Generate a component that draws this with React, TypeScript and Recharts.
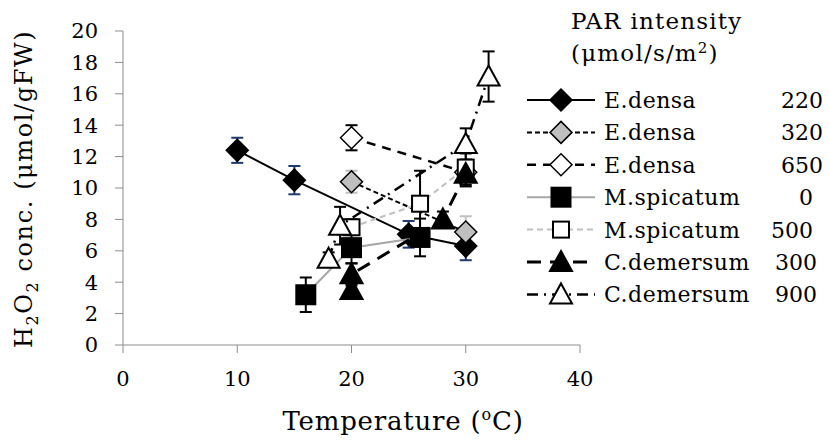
import React from "react";
import { ScatterChart, Scatter, XAxis, YAxis, ErrorBar } from "recharts";

// temperature (°C), H2O2 (µmol/gFW), error (±)
const tempEd220 = [10, 15, 25, 30];
const valEd220 = [12.4, 10.5, 7.05, 6.3];
const errEd220 = [0.8, 0.9, 0.85, 0.9];

const tempEd320 = [20, 30];
const valEd320 = [10.4, 7.2];
const errEd320 = [0.7, 1.0];

const tempEd650 = [20, 30];
const valEd650 = [13.2, 11.0];
const errEd650 = [0.8, 0.8];

const tempMs0 = [16, 20, 26];
const valMs0 = [3.2, 6.2, 6.85];
const errMs0 = [1.1, 1.0, 1.2];

const tempMs500 = [20, 26, 30];
const valMs500 = [7.5, 9.0, 11.3];
const errMs500 = [0.5, 2.1, 0.9];

const tempCd300 = [20, 20, 28, 30];
const valCd300 = [3.5, 4.5, 8.0, 10.9];
const errCd300 = [0.4, 0.7, 0.5, 0.8];

const tempCd900 = [18, 19, 30, 32];
const valCd900 = [5.5, 7.6, 12.8, 17.1];
const errCd900 = [0.4, 1.2, 1.0, 1.6];

const speciesNames = ["E.densa", "E.densa", "E.densa", "M.spicatum", "M.spicatum", "C.demersum", "C.demersum"];
const parValues = ["220", "320", "650", "0", "500", "300", "900"];

const xTicks = [0, 10, 20, 30, 40];
const yTicks = [0, 2, 4, 6, 8, 10, 12, 14, 16, 18, 20];

const FONT = "'DejaVu Serif', 'Liberation Serif', serif";

const build = (t: number[], v: number[], e: number[]) =>
  t.map((x, i) => ({ t: x, v: v[i], e: e[i] }));

const seriesData = [
  build(tempEd220, valEd220, errEd220),
  build(tempEd320, valEd320, errEd320),
  build(tempEd650, valEd650, errEd650),
  build(tempMs0, valMs0, errMs0),
  build(tempMs500, valMs500, errMs500),
  build(tempCd300, valCd300, errCd300),
  build(tempCd900, valCd900, errCd900),
];

// look of each series, same order as above
const styles = [
  { kind: "diamond", fill: "#000", line: "#000", width: 2, dash: undefined, err: "#1f3a6e", valueRight: 823 },
  { kind: "diamond", fill: "#bfbfbf", line: "#000", width: 2, dash: "5 3", err: "#bfbfbf", valueRight: 823 },
  { kind: "diamond", fill: "#fff", line: "#000", width: 2.5, dash: "9 7", err: "#000", valueRight: 823 },
  { kind: "square", fill: "#000", line: "#a6a6a6", width: 2, dash: undefined, err: "#000", valueRight: 813 },
  { kind: "square", fill: "#fff", line: "#c0c0c0", width: 2, dash: "6 4", err: "#000", valueRight: 813 },
  { kind: "triangle", fill: "#000", line: "#000", width: 3, dash: "14 9", err: "#000", valueRight: 817 },
  { kind: "triangle", fill: "#fff", line: "#000", width: 2.5, dash: "11 6 2 6", err: "#000", valueRight: 817 },
];

function Marker({ kind, fill, cx, cy }: { kind: string; fill: string; cx: number; cy: number }) {
  if (kind === "diamond") {
    const r = 11;
    return (
      <polygon
        points={`${cx},${cy - r} ${cx + r},${cy} ${cx},${cy + r} ${cx - r},${cy}`}
        fill={fill}
        stroke="#000"
        strokeWidth={1.5}
      />
    );
  }
  if (kind === "square") {
    const s = fill === "#000" ? 19 : 16;
    return <rect x={cx - s / 2} y={cy - s / 2} width={s} height={s} fill={fill} stroke="#000" strokeWidth={2} />;
  }
  return (
    <polygon
      points={`${cx},${cy - 11} ${cx + 11},${cy + 9} ${cx - 11},${cy + 9}`}
      fill={fill}
      stroke="#000"
      strokeWidth={2}
    />
  );
}

function LegendBox() {
  const title = { fontFamily: FONT, fontSize: 23, fill: "#000", letterSpacing: 1.2 };
  const txt = { fontFamily: FONT, fontSize: 22, fill: "#000" };
  return (
    <svg width={829} height={441} style={{ position: "absolute", left: 0, top: 0, pointerEvents: "none" }}>
      <text x={571} y={29} {...title}>PAR intensity</text>
      <text x={571} y={61} {...title}>
        (μmol/s/m<tspan fontSize={15} dy={-8}>2</tspan><tspan dy={8}>)</tspan>
      </text>
      {styles.map((s, i) => {
        const cy = 100 + i * 32.4;
        return (
          <g key={i}>
            <line x1={527} x2={595} y1={cy} y2={cy} stroke={s.line} strokeWidth={s.width} strokeDasharray={s.dash} />
            <Marker kind={s.kind} fill={s.fill} cx={561} cy={cy} />
            <text x={604} y={cy + 8} {...txt} letterSpacing={0.5}>{speciesNames[i]}</text>
            <text x={s.valueRight} y={cy + 8} textAnchor="end" {...txt}>
              {parValues[i]}
            </text>
          </g>
        );
      })}
    </svg>
  );
}

const tickStyle = { fill: "#000", fontSize: 21, fontFamily: FONT };

export default function App() {
  return (
    <div style={{ position: "absolute", left: 0, top: 0, width: 829, height: 441, background: "#fff" }}>
      <ScatterChart width={829} height={441} margin={{ top: 31, right: 249, bottom: 0, left: 0 }}>
        <XAxis
          type="number"
          dataKey="t"
          domain={[0, 40]}
          ticks={xTicks}
          height={96}
          tickSize={8}
          tickMargin={18}
          stroke="#8c8c8c"
          tick={tickStyle}
          label={{
            content: () => (
              <text x={403} y={430} textAnchor="middle" fontFamily={FONT} fontSize={26} fill="#000" letterSpacing={0.8}>
                Temperature (<tspan fontSize={16} dy={-10}>o</tspan><tspan dy={10}>C)</tspan>
              </text>
            ),
          }}
        />
        <YAxis
          type="number"
          dataKey="v"
          domain={[0, 20]}
          ticks={yTicks}
          width={123}
          tickSize={8}
          tickMargin={17}
          interval={0}
          stroke="#8c8c8c"
          tick={tickStyle}
          label={{
            content: () => (
              <text
                x={0}
                y={0}
                transform="translate(32,189) rotate(-90)"
                textAnchor="middle"
                fontFamily={FONT}
                fontSize={24}
                letterSpacing={1.6}
                fill="#000"
              >
                H<tspan fontSize={16} dy={6}>2</tspan>
                <tspan dy={-6}>O</tspan>
                <tspan fontSize={16} dy={6}>2</tspan>
                <tspan dy={-6}> conc.  (μmol/gFW)</tspan>
              </text>
            ),
          }}
        />
        {seriesData.map((d, i) => {
          const s = styles[i];
          return (
            <Scatter
              key={i}
              name={`${speciesNames[i]} ${parValues[i]}`}
              data={d}
              fill={s.fill}
              isAnimationActive={false}
              line={{ stroke: s.line, strokeWidth: s.width, strokeDasharray: s.dash }}
              lineType="joint"
              shape={(p: any) => <Marker kind={s.kind} fill={s.fill} cx={p.cx} cy={p.cy} />}
            >
              <ErrorBar dataKey="e" direction="y" width={6} stroke={s.err} strokeWidth={2} />
            </Scatter>
          );
        })}
      </ScatterChart>
      <LegendBox />
    </div>
  );
}
